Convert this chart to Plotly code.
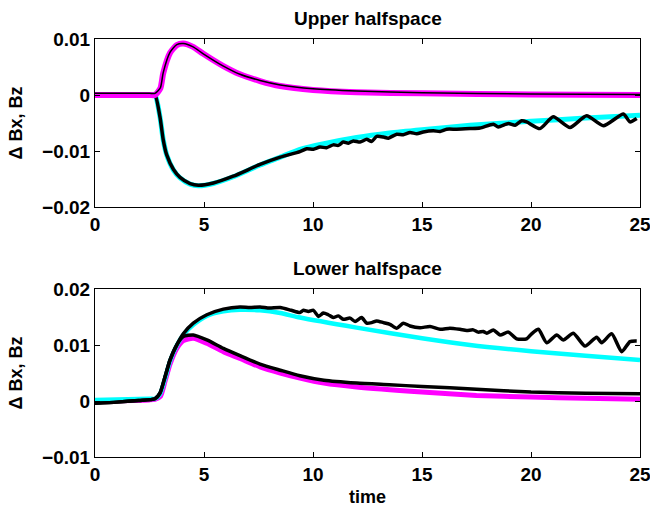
import plotly.graph_objects as go
from plotly.subplots import make_subplots

# ---------------- Upper halfspace ----------------
up_mag_t = [0, 2.5, 2.75, 3.0, 3.13, 3.44, 3.75, 4.05, 4.5, 4.95, 5.87, 6.65, 7.57, 8.5, 10, 12, 15, 20, 25]
up_mag_v = [0.0, 0.0, 0.0, 0.0012, 0.0039, 0.0075, 0.0089, 0.0092, 0.0086, 0.0074, 0.0052, 0.0037, 0.0025, 0.0016, 0.0009, 0.0005, 0.0003, 0.0001, 0.0]

up_bz_t = [0, 2.5, 2.75, 3.0, 3.13, 3.44, 3.75, 4.05, 4.5, 4.95, 5.87, 6.65, 7.57, 8.5, 10, 12, 15, 20, 25]
up_bz_v = [0.0003, 0.0003, 0.0003, 0.0013, 0.0040, 0.0076, 0.0090, 0.0092, 0.0086, 0.0074, 0.0052, 0.0037, 0.0026, 0.0018, 0.0011, 0.0007, 0.0004, 0.0002, 0.0001]

up_cyan_t = [0, 2.5, 2.75, 2.98, 3.13, 3.29, 3.6, 3.9, 4.36, 4.74, 5.43, 6.34, 7.57, 8.5, 9.4, 10.5, 12, 13.5, 15, 17.2, 20, 22.5, 25]
up_cyan_v = [0.0, 0.0, 0.0, -0.0039, -0.0080, -0.0107, -0.0134, -0.0148, -0.0159, -0.0162, -0.0158, -0.0146, -0.0125, -0.0111, -0.0097, -0.0087, -0.0076, -0.0068, -0.0062, -0.0054, -0.0047, -0.0041, -0.0036]

up_bx_t = [0, 2.5, 2.75, 2.98, 3.13, 3.29, 3.6, 3.9, 4.36, 4.74, 5.43, 6.34, 7.57, 8.5,
           9.40, 9.71, 10.02, 10.32, 10.62, 10.93, 11.16, 11.39, 11.62, 11.85, 12.16, 12.46, 12.69,
           12.92, 13.23, 13.46, 13.84, 14.14, 14.45, 14.76, 15.06, 15.52, 15.83, 16.13, 16.59,
           17.20, 17.66, 18.27, 18.50, 18.96, 19.27, 19.57, 19.80, 20.41, 21.02, 21.79, 22.55,
           23.32, 24.24, 24.54, 24.85]
up_bx_v = [0.0, 0.0, 0.0, -0.0039, -0.0080, -0.0107, -0.0133, -0.0147, -0.0158, -0.0161, -0.0157, -0.0145, -0.0124, -0.0111,
           -0.0101, -0.0096, -0.0097, -0.0093, -0.0094, -0.0089, -0.0090, -0.0084, -0.0086, -0.0082, -0.0084, -0.0079, -0.0083,
           -0.0074, -0.0075, -0.0077, -0.0070, -0.0071, -0.0067, -0.0069, -0.0066, -0.0064, -0.0065, -0.0061, -0.0061,
           -0.0060, -0.0059, -0.0052, -0.0057, -0.0051, -0.0054, -0.0046, -0.0048, -0.0060, -0.0039, -0.0058, -0.0037,
           -0.0055, -0.0034, -0.0048, -0.0042]

# ---------------- Lower halfspace ----------------
lo_mag_t = [0, 2.5, 2.75, 3.0, 3.21, 3.44, 3.75, 4.05, 4.51, 5.13, 5.89, 6.65, 7.57, 8.5, 9.4, 10.5, 12, 15, 17.5, 20, 22.5, 25]
lo_mag_v = [0.0, 0.0002, 0.0003, 0.0008, 0.0035, 0.0066, 0.0094, 0.0108, 0.0112, 0.0103, 0.0088, 0.0076, 0.0061, 0.0050, 0.0041, 0.0032, 0.0025, 0.0016, 0.0010, 0.0007, 0.0005, 0.0003]

lo_cyan_t = [0, 2.5, 2.75, 2.98, 3.21, 3.44, 3.75, 4.05, 4.51, 5.13, 5.89, 6.65, 7.57, 8.5, 9.4, 12, 15, 17.2, 20, 22.5, 25]
lo_cyan_v = [0.0002, 0.0004, 0.0004, 0.0012, 0.0040, 0.0071, 0.0099, 0.0118, 0.0136, 0.0152, 0.0160, 0.0163, 0.0162, 0.0157, 0.0149, 0.0131, 0.0112, 0.0100, 0.0089, 0.0081, 0.0073]

lo_bx_t = [0, 1, 2, 2.75, 2.98, 3.21, 3.44, 3.75, 4.05, 4.51, 5.13, 5.89, 6.65, 7.1, 7.57, 8.0, 8.5, 9.0,
           9.40, 9.56, 9.79, 10.02, 10.25, 10.47, 10.70, 10.93, 11.16, 11.39, 11.70, 11.93, 12.23, 12.46,
           12.69, 12.92, 13.23, 13.53, 13.84, 14.14, 14.45, 14.91, 15.37, 15.83, 16.28,
           16.74, 17.05, 17.35, 17.58, 17.81, 17.97, 18.27, 18.58, 18.96, 19.34, 19.80, 20.03,
           20.34, 20.72, 21.18, 21.48, 21.94, 22.48, 23.01, 23.24, 23.70, 24.16, 24.54, 24.85]
lo_bx_v = [-0.0004, -0.0002, 0.0001, 0.0004, 0.0014, 0.0043, 0.0073, 0.0100, 0.0120, 0.0139, 0.0154, 0.0164, 0.0168, 0.0167, 0.0168, 0.0166, 0.0167, 0.0162,
           0.0158, 0.0162, 0.0160, 0.0162, 0.0151, 0.0157, 0.0154, 0.0149, 0.0152, 0.0146, 0.0148, 0.0142, 0.0149, 0.0139,
           0.0140, 0.0143, 0.0140, 0.0137, 0.0130, 0.0139, 0.0134, 0.0131, 0.0133, 0.0128, 0.0130,
           0.0128, 0.0126, 0.0127, 0.0123, 0.0124, 0.0121, 0.0127, 0.0118, 0.0123, 0.0111, 0.0111, 0.0120,
           0.0128, 0.0104, 0.0118, 0.0109, 0.0121, 0.0098, 0.0114, 0.0104, 0.0120, 0.0088, 0.0106, 0.0107]

lo_bz_t = [0, 1, 2, 2.75, 2.98, 3.21, 3.44, 3.75, 4.05, 4.51, 5.13, 5.89, 6.65, 7.57, 8.5, 9.4, 10.5, 12, 13.5, 15, 17.5, 20, 22.5, 25]
lo_bz_v = [-0.0004, -0.0002, 0.0001, 0.0004, 0.0014, 0.0043, 0.0073, 0.0100, 0.0115, 0.0118, 0.0109, 0.0094, 0.0081, 0.0066, 0.0055, 0.0045, 0.0037, 0.0032, 0.0029, 0.0026, 0.0021, 0.0016, 0.0014, 0.0013]

x_ticks = [0, 5, 10, 15, 20, 25]
up_y_ticks = [-0.02, -0.01, 0, 0.01]
up_y_text = ["\u22120.02", "\u22120.01", "0", "0.01"]
lo_y_ticks = [-0.01, 0, 0.01, 0.02]
lo_y_text = ["\u22120.01", "0", "0.01", "0.02"]

MAG = "#ff00ff"
CYAN = "#00ffff"
BLACK = "#000000"

fig = make_subplots(rows=2, cols=1, vertical_spacing=0.196)

def add(t, v, color, width, row):
    fig.add_trace(go.Scatter(x=t, y=v, mode="lines",
                             line=dict(color=color, width=width, shape="spline", smoothing=0.6),
                             showlegend=False, hoverinfo="skip"), row=row, col=1)

# upper
add(up_cyan_t, up_cyan_v, CYAN, 5, 1)
add(up_bx_t, up_bx_v, BLACK, 3.5, 1)
add(up_mag_t, up_mag_v, MAG, 6, 1)
add(up_bz_t, up_bz_v, BLACK, 1.5, 1)
# lower
add(lo_mag_t, lo_mag_v, MAG, 5, 2)
add(lo_cyan_t, lo_cyan_v, CYAN, 4.5, 2)
add(lo_bx_t, lo_bx_v, BLACK, 3.5, 2)
add(lo_bz_t, lo_bz_v, BLACK, 3.5, 2)

font_family = "Liberation Sans, Arial, sans-serif"
axis_common = dict(showgrid=False, zeroline=False, showline=True, linecolor="black",
                   linewidth=1, mirror="allticks", ticks="inside", ticklen=5,
                   tickcolor="black", tickwidth=1, ticklabeloverflow="allow", automargin=False,
                   tickfont=dict(family=font_family, size=19, color="black", weight="bold"))

for r in (1, 2):
    fig.update_xaxes(range=[0, 25], tickvals=x_ticks, ticktext=[str(v) for v in x_ticks],
                     row=r, col=1, **axis_common)

fig.update_yaxes(range=[-0.02, 0.01], tickvals=up_y_ticks, ticktext=up_y_text, row=1, col=1, **axis_common)
fig.update_yaxes(range=[-0.01, 0.02], tickvals=lo_y_ticks, ticktext=lo_y_text, row=2, col=1, **axis_common)

ytitle = dict(text="\u0394 Bx, Bz", font=dict(family=font_family, size=18, color="black", weight="bold"), standoff=14)
fig.update_yaxes(title=ytitle, row=1, col=1)
fig.update_yaxes(title=ytitle, row=2, col=1)
fig.update_xaxes(title=dict(text="time", font=dict(family=font_family, size=18, color="black", weight="bold"), standoff=6), row=2, col=1)

fig.update_layout(
    width=650, height=508,
    margin=dict(l=95, r=10, t=39, b=51),
    paper_bgcolor="white", plot_bgcolor="white",
    annotations=[
        dict(text="Upper halfspace", x=0.5, y=1.0, xref="paper", yref="paper",
             xanchor="center", yanchor="middle", yshift=21, showarrow=False,
             font=dict(family=font_family, size=19, color="black", weight="bold")),
        dict(text="Lower halfspace", x=0.5, y=0.4019, xref="paper", yref="paper",
             xanchor="center", yanchor="middle", yshift=21, showarrow=False,
             font=dict(family=font_family, size=19, color="black", weight="bold")),
    ],
)
fig.update_yaxes(domain=[0.598, 1.0], row=1, col=1)
fig.update_yaxes(domain=[0.0, 0.4019], row=2, col=1)

fig.write_html("out.html")
